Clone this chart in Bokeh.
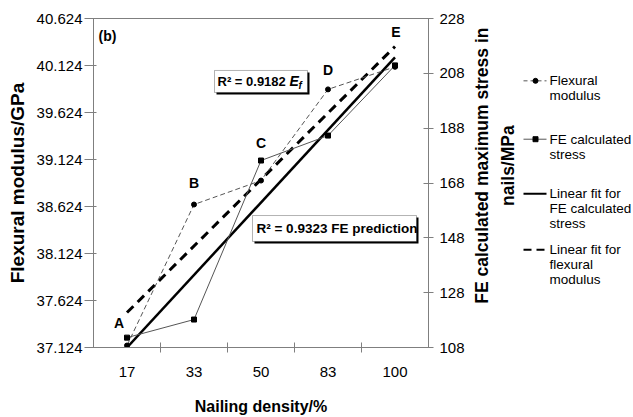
import numpy as np
from bokeh.plotting import figure
from bokeh.models import Range1d, LinearAxis, FixedTicker, Label, BoxAnnotation
from bokeh.layouts import row
from bokeh.embed import file_html
from bokeh.resources import INLINE
from bokeh.core.properties import value

# ---------------- data ----------------
categories = ["17", "33", "50", "83", "100"]
point_labels = ["A", "B", "C", "D", "E"]
flexural_modulus = [37.145, 38.645, 38.900, 39.870, 40.110]   # GPa (left axis)
fe_stress = [111.6, 118.2, 176.2, 185.3, 210.9]               # MPa (right axis)
flex_fit_ends = [37.496, 40.326]                              # linear fit, first/last category
fe_fit_ends = [108.0, 213.8]
left_ticks = [37.124, 37.624, 38.124, 38.624, 39.124, 39.624, 40.124, 40.624]
left_tick_labels = ["37.124", "37.624", "38.124", "38.624", "39.124", "39.624", "40.124", "40.624"]
right_ticks = [108, 128, 148, 168, 188, 208, 228]
r2_flex = "0.9182"
r2_fe = "0.9323"
right_title = ["FE calculated maximum stress in", "nails/MPa"]
legend_entries = [["Flexural", "modulus"],
                  ["FE calculated", "stress"],
                  ["Linear fit for", "FE calculated", "stress"],
                  ["Linear fit for", "flexural", "modulus"]]

FONT = "Liberation Sans"
AX = "#7f7f7f"
H = 417

x = np.arange(len(categories)) + 0.5
x_ends = [x[0], x[-1]]

p = figure(width=470, height=H,
           x_range=Range1d(0, len(categories)),
           y_range=Range1d(left_ticks[0], left_ticks[-1]),
           output_backend="svg", toolbar_location=None,
           min_border_left=93, min_border_right=42,
           min_border_top=18, min_border_bottom=70)
p.extra_y_ranges = {"stress": Range1d(right_ticks[0], right_ticks[-1])}
p.xgrid.visible = False
p.ygrid.visible = False
p.outline_line_color = AX
p.border_fill_color = "white"
p.background_fill_color = "white"

def style(ax, label_size):
    ax.axis_line_color = AX
    ax.major_tick_line_color = AX
    ax.minor_tick_line_color = AX
    ax.major_label_text_font = FONT
    ax.major_label_text_font_size = "15px"
    ax.major_label_text_color = "black"
    ax.axis_label_text_font = FONT
    ax.axis_label_text_font_style = "bold"
    ax.axis_label_text_font_size = label_size
    ax.axis_label_text_color = "black"

# x axis
xa = p.xaxis[0]
style(xa, "16px")
xa.ticker = FixedTicker(ticks=list(x), minor_ticks=list(range(1, len(categories))))
xa.major_label_overrides = {float(xi): c for xi, c in zip(x, categories)}
xa.major_tick_in = 0
xa.major_tick_out = 0
xa.minor_tick_in = 5
xa.minor_tick_out = 5
xa.major_label_standoff = 14
xa.axis_label = "Nailing density/%"
xa.axis_label_standoff = 18

# left axis
ya = p.yaxis[0]
style(ya, "19px")
ya.ticker = FixedTicker(ticks=left_ticks, minor_ticks=[])
ya.major_label_overrides = {t: s for t, s in zip(left_ticks, left_tick_labels)}
ya.major_tick_in = 3
ya.major_tick_out = 9
ya.minor_tick_in = 0
ya.minor_tick_out = 0
ya.major_label_standoff = 2
ya.axis_label = "Flexural modulus/GPa"
ya.axis_label_standoff = 6

# right axis (its title is drawn in the side panel so it reads bottom-to-top)
ra = LinearAxis(y_range_name="stress", ticker=FixedTicker(ticks=right_ticks, minor_ticks=[]))
style(ra, "19px")
ra.major_tick_in = 5
ra.major_tick_out = 5
ra.minor_tick_in = 0
ra.minor_tick_out = 0
ra.major_label_standoff = 6
p.add_layout(ra, "right")

# ---------------- glyphs ----------------
p.line(x_ends, flex_fit_ends, line_width=3, line_dash="9 6", line_color="black")
p.line(x_ends, fe_fit_ends, y_range_name="stress", line_width=2.5, line_color="black")
p.line(x, flexural_modulus, line_width=1, line_dash="5 3", line_color="#555555")
p.scatter(x, flexural_modulus, marker="circle", size=5, color="black")
p.line(x, fe_stress, y_range_name="stress", line_width=1, line_color="#555555")
p.scatter(x, fe_stress, y_range_name="stress", marker="square", size=5, color="black")

# point labels A-E
anchor = ["stress", "default", "stress", "default", "stress"]
offs = [(-8, 15), (0, 22), (0, 18), (0, 19), (1, 33)]
for i, lab in enumerate(point_labels):
    yv = fe_stress[i] if anchor[i] == "stress" else flexural_modulus[i]
    p.add_layout(Label(x=x[i], y=yv, y_range_name=anchor[i], text=lab,
                       x_offset=offs[i][0], y_offset=offs[i][1],
                       text_font=FONT, text_font_style="bold", text_font_size="14px",
                       text_align="center", text_baseline="middle", text_color="black"))

# (b)
p.add_layout(Label(x=0, y=left_ticks[-1], x_offset=5, y_offset=-17, text="(b)",
                   text_font=FONT, text_font_style="bold",
                   text_font_size="14px", text_baseline="middle", text_color="black"))

# R^2 boxes
def box(l, r, t, b):
    dx, dy = 2 / 67, 2 * 3.5 / 329
    p.add_layout(BoxAnnotation(left=l + dx, right=r + dx, top=t - dy, bottom=b - dy,
                               fill_color="black", fill_alpha=1, line_color=None, level="annotation"))
    p.add_layout(BoxAnnotation(left=l, right=r, top=t, bottom=b, fill_color="white",
                               fill_alpha=1, line_color="black", line_width=1, level="annotation"))

box(1.806, 3.194, 40.071, 39.837)
box(2.373, 4.821, 38.528, 38.252)

ymid1 = (40.071 + 39.837) / 2
p.add_layout(Label(x=1.806, y=ymid1, x_offset=3, text="R² = " + r2_flex,
                   text_font=FONT, text_font_style="bold", text_font_size="13px",
                   text_baseline="middle", text_color="black"))
p.add_layout(Label(x=1.806, y=ymid1, x_offset=75, text="E",
                   text_font=FONT, text_font_style="bold italic", text_font_size="14px",
                   text_baseline="middle", text_color="black"))
p.add_layout(Label(x=1.806, y=ymid1, x_offset=84, y_offset=-4, text="f",
                   text_font=FONT, text_font_style="bold italic", text_font_size="10px",
                   text_baseline="middle", text_color="black"))
ymid2 = (38.528 + 38.252) / 2
p.add_layout(Label(x=2.373, y=ymid2, x_offset=4, text="R² = " + r2_fe + " FE prediction",
                   text_font=FONT, text_font_style="bold", text_font_size="13.5px",
                   text_baseline="middle", text_color="black"))

# ---------------- side panel: right-axis title + legend ----------------
lg = figure(width=163, height=H, x_range=Range1d(0, 163), y_range=Range1d(H, 0),
            output_backend="svg", toolbar_location=None,
            x_axis_type=None, y_axis_type=None, min_border=0)
lg.outline_line_color = None
lg.grid.visible = False

title_cy = (18 + 347) / 2 + 4
lg.text([11, 37], [title_cy, title_cy], text=right_title, angle=np.pi / 2,
        text_font=value(FONT), text_font_style="bold", text_font_size="17.5px",
        text_align="center", text_baseline="middle", text_color="black")

rows_y = [79, 153, 222, 293]
styles = [dict(line_width=1, line_dash="4 3", line_color="#555555"),
          dict(line_width=1, line_color="#555555"),
          dict(line_width=2, line_color="black"),
          dict(line_width=2, line_dash="8 5", line_color="black")]
markers = ["circle", "square", None, None]
for yy, st, mk, txt in zip(rows_y, styles, markers, legend_entries):
    lg.line([53, 76], [yy, yy], **st)
    if mk:
        lg.scatter([65], [yy], marker=mk, size=5, color="black")
    lg.text([79] * len(txt), [yy + 19 * k for k in range(len(txt))], text=txt,
            text_font=value(FONT), text_font_size="13.5px", text_baseline="middle",
            text_color="black")

layout = row(p, lg)
open("out.html", "w").write(file_html(layout, INLINE))
